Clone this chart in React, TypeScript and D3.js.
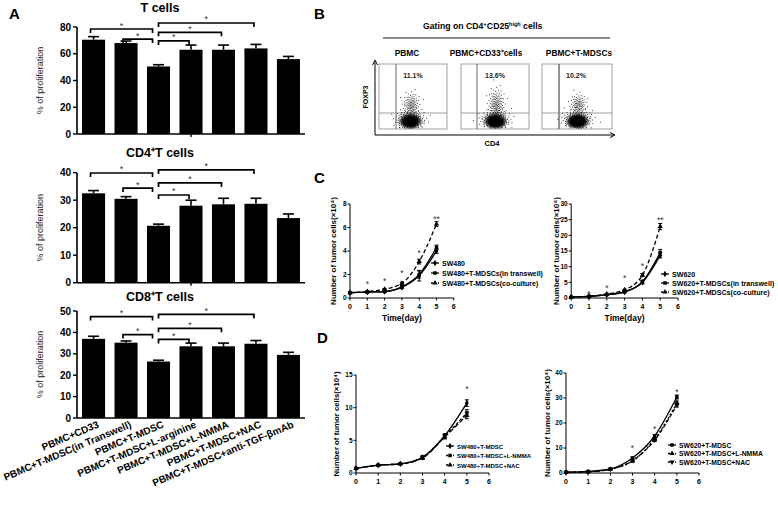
import React from 'react';
import * as d3 from 'd3';

const FONT = "'Liberation Sans', Arial, Helvetica, sans-serif";

// ---------------- Panel A data ----------------
const groups = [
  'PBMC+CD33',
  'PBMC+T-MDSC(in Transwell)',
  'PBMC+T-MDSC',
  'PBMC+T-MDSC+L-arginine',
  'PBMC+T-MDSC+L-NMMA',
  'PBMC+T-MDSC+NAC',
  'PBMC+T-MDSC+anti-TGF-βmAb',
];
const tCells = [70.5, 68, 50.5, 63, 63, 64, 56];
const tCellsErr = [2.3, 1.5, 1.3, 3.5, 3.5, 3, 2];
const cd4Cells = [32.5, 30.5, 20.7, 28, 28.5, 28.7, 23.5];
const cd4Err = [1, 0.8, 0.6, 2, 2.2, 2, 1.5];
const cd8Cells = [37, 35.2, 26.4, 33.5, 33.5, 34.7, 29.5];
const cd8Err = [1.2, 0.8, 0.6, 1.5, 1.5, 1.5, 1.2];
const tTicks = [0, 20, 40, 60, 80];
const cd4Ticks = [0, 10, 20, 30, 40];
const cd8Ticks = [0, 10, 20, 30, 40, 50];
// [from, to, bracket level (data units)]
const tBrackets = [[0, 2, 78.5], [1, 2, 71], [2, 5, 83], [2, 4, 76], [2, 3, 69.6]];
const cd4Brackets = [[0, 2, 39.9], [1, 2, 34.4], [2, 5, 41], [2, 4, 36.3], [2, 3, 31.9]];
const cd8Brackets = [[0, 2, 47.4], [1, 2, 39], [2, 5, 48.4], [2, 4, 41.9], [2, 3, 36.7]];

// ---------------- Panel B data ----------------
const flowLabels = ['PBMC', 'PBMC+CD33⁺cells', 'PBMC+T-MDSCs'];
const flowPct = ['11.1%', '13.6%', '10.2%'];

// ---------------- Panel C data ----------------
const days = [0, 1, 2, 3, 4, 5];
const dayTicks = [0, 1, 2, 3, 4, 5, 6];
const sw480 = [0.45, 0.5, 0.55, 0.9, 1.9, 4.0];
const sw480Err = [0.05, 0.05, 0.05, 0.1, 0.45, 0.2];
const sw480Transwell = [0.45, 0.5, 0.55, 0.95, 2.0, 4.3];
const sw480TranswellErr = [0.05, 0.05, 0.05, 0.1, 0.3, 0.2];
const sw480Co = [0.45, 0.55, 0.75, 1.25, 3.1, 6.3];
const sw480CoErr = [0.05, 0.05, 0.05, 0.1, 0.2, 0.2];
const cLeftTicks = [0, 2, 4, 6, 8];
const cLeftStars = [[1, '*', 1.4], [2, '*', 1.6], [3, '*', 2.3], [4, '*', 4.0], [5, '**', 6.9]];

const sw620 = [0.3, 0.5, 1.0, 1.9, 5.0, 13.6];
const sw620Err = [0.05, 0.1, 0.1, 0.2, 0.5, 0.8];
const sw620Transwell = [0.3, 0.5, 1.1, 2.0, 5.2, 14.5];
const sw620TranswellErr = [0.05, 0.1, 0.1, 0.2, 0.5, 1.0];
const sw620Co = [0.3, 0.6, 1.3, 2.6, 7.3, 22.8];
const sw620CoErr = [0.05, 0.1, 0.1, 0.2, 0.5, 1.0];
const cRightTicks = [0, 5, 10, 15, 20, 25, 30];
const cRightStars = [[1, '*', 1.9], [2, '*', 3.8], [3, '*', 7.0], [4, '*', 10.9], [5, '**', 25.5]];

// ---------------- Panel D data ----------------
const sw480T = [0.7, 1.2, 1.4, 2.4, 5.7, 10.7];
const sw480TErr = [0.05, 0.05, 0.1, 0.2, 0.3, 0.5];
const sw480Nmma = [0.7, 1.2, 1.4, 2.4, 5.6, 9.2];
const sw480NmmaErr = [0.05, 0.05, 0.1, 0.2, 0.3, 0.5];
const sw480Nac = [0.7, 1.2, 1.4, 2.3, 5.5, 8.8];
const sw480NacErr = [0.05, 0.05, 0.1, 0.2, 0.3, 0.5];
const dLeftTicks = [0, 5, 10, 15];
const dLeftStars = [[5, '*', 13.2]];

const sw620T = [0.3, 0.6, 1.6, 6.0, 14.8, 30.4];
const sw620TErr = [0.05, 0.1, 0.2, 0.4, 0.6, 0.8];
const sw620Nmma = [0.3, 0.5, 1.5, 4.8, 13.6, 28.0];
const sw620NmmaErr = [0.05, 0.1, 0.2, 0.4, 0.6, 0.8];
const sw620Nac = [0.3, 0.5, 1.5, 5.0, 13.2, 27.2];
const sw620NacErr = [0.05, 0.1, 0.2, 0.4, 0.6, 0.8];
const dRightTicks = [0, 10, 20, 30, 40];
const dRightStars = [[3, '*', 10.8], [4, '*', 18.4], [5, '*', 33.2]];

// ---------------- Bar panel ----------------
function BarPanel({ title, titleY, values, errs, brackets, ticks, top, bottom, showLabels }: any) {
  const x = d3.scaleBand<string>().domain(groups).range([77, 305]).paddingInner(0.29).paddingOuter(0.155);
  const y = d3.scaleLinear().domain([0, ticks[ticks.length - 1]]).range([bottom, top]);
  const cx = (i: number) => (x(groups[i]) as number) + x.bandwidth() / 2;
  const capW = 11;
  return (
    <g fontFamily={FONT}>
      <text x={160} y={titleY} textAnchor="middle" fontSize={12.5} fontWeight="bold">{title}</text>
      {groups.map((g, i) => (
        <g key={g}>
          <rect x={x(g)} y={y(values[i])} width={x.bandwidth()} height={bottom - y(values[i])} fill="#000" />
          <line x1={cx(i)} x2={cx(i)} y1={y(values[i])} y2={y(values[i] + errs[i])} stroke="#000" strokeWidth={1.6} />
          <line x1={cx(i) - capW / 2} x2={cx(i) + capW / 2} y1={y(values[i] + errs[i])} y2={y(values[i] + errs[i])} stroke="#000" strokeWidth={1.6} />
        </g>
      ))}
      <line x1={77} x2={305} y1={bottom} y2={bottom} stroke="#000" strokeWidth={1.6} />
      <line x1={191} x2={191} y1={bottom} y2={bottom + 3} stroke="#000" strokeWidth={1.4} />
      <line x1={77} x2={77} y1={bottom} y2={top} stroke="#000" strokeWidth={1.6} />
      {ticks.map((t: number) => (
        <g key={t}>
          <line x1={73} x2={77} y1={y(t)} y2={y(t)} stroke="#000" strokeWidth={1.4} />
          <text x={71} y={y(t) + 3.5} textAnchor="end" fontSize={10} fontWeight="bold">{t}</text>
        </g>
      ))}
      <text transform={`translate(${43},${(top + bottom) / 2}) rotate(-90)`} textAnchor="middle" fontSize={9} fill="#222">% of proliferation</text>
      {brackets.map((b: number[], k: number) => {
        const [a, c, lvl] = b;
        const x1 = c === 2 ? cx(a) - 3 : cx(2);
        const x2 = c === 2 ? cx(2) - 6 : cx(c) - 2;
        const yl = y(lvl);
        return (
          <g key={k}>
            <path d={`M${x1},${yl + 4}V${yl}H${x2}V${yl + 4}`} fill="none" stroke="#000" strokeWidth={1.7} />
            <text x={(x1 + x2) / 2} y={yl - 0.5} textAnchor="middle" fontSize={9} fill="#333">*</text>
          </g>
        );
      })}
      {showLabels && groups.map((g, i) => (
        <text key={g} transform={`translate(${cx(i) + 6},${bottom + 9}) rotate(-23)`} textAnchor="end" fontSize={10} fontWeight="bold">{g}</text>
      ))}
    </g>
  );
}

// ---------------- Line panel ----------------
const symbolPath = (type: string, size: number) => {
  const map: any = {
    diamond: d3.symbolDiamond,
    square: d3.symbolSquare,
    triangle: d3.symbolTriangle,
    circle: d3.symbolCircle,
    invtri: d3.symbolTriangle,
  };
  return d3.symbol().type(map[type]).size(size)() as string;
};

function Marker({ type, x, y, size }: any) {
  const rot = type === 'invtri' ? ' rotate(180)' : '';
  return <path d={symbolPath(type, size)} transform={`translate(${x},${y})${rot}`} fill="#000" />;
}

function LinePanel({ xr, yr, yTicks, series, stars, legend, yLabel, yLabelX, xTitle, tickFs, tickOff, legFs, legRow, yLabelFs }: any) {
  const x = d3.scaleLinear().domain([0, 6]).range(xr);
  const y = d3.scaleLinear().domain([0, yTicks[yTicks.length - 1]]).range(yr);
  const line = d3.line<number>().x((_, i) => x(days[i])).y((d) => y(d)).curve(d3.curveMonotoneX);
  return (
    <g fontFamily={FONT}>
      <line x1={xr[0]} x2={xr[1]} y1={yr[0]} y2={yr[0]} stroke="#000" strokeWidth={1} />
      <line x1={xr[0]} x2={xr[0]} y1={yr[0]} y2={yr[1]} stroke="#000" strokeWidth={1} />
      {dayTicks.map((t) => (
        <g key={t}>
          <line x1={x(t)} x2={x(t)} y1={yr[0]} y2={yr[0] + 2.5} stroke="#000" />
          <text x={x(t)} y={yr[0] + tickOff} textAnchor="middle" fontSize={tickFs} fontWeight="bold">{t}</text>
        </g>
      ))}
      {yTicks.map((t: number) => (
        <g key={t}>
          <line x1={xr[0] - 2.5} x2={xr[0]} y1={y(t)} y2={y(t)} stroke="#000" />
          <text x={xr[0] - 3.5} y={y(t) + 2.3} textAnchor="end" fontSize={tickFs - 0.5} fontWeight="bold">{t}</text>
        </g>
      ))}
      <text transform={`translate(${yLabelX},${(yr[0] + yr[1]) / 2}) rotate(-90)`} textAnchor="middle" fontSize={yLabelFs} fontWeight="bold">{yLabel}</text>
      {xTitle && <text x={(xr[0] + xr[1]) / 2} y={yr[0] + 23} textAnchor="middle" fontSize={8.5} fontWeight="bold">{xTitle}</text>}
      {series.map((s: any, k: number) => (
        <g key={k}>
          <path d={line(s.values) as string} fill="none" stroke="#000" strokeWidth={1.3} strokeDasharray={s.dash} />
          {s.values.map((v: number, i: number) => (
            <g key={i}>
              <line x1={x(days[i])} x2={x(days[i])} y1={y(v - s.errs[i])} y2={y(v + s.errs[i])} stroke="#000" strokeWidth={1} />
              <line x1={x(days[i]) - 2} x2={x(days[i]) + 2} y1={y(v + s.errs[i])} y2={y(v + s.errs[i])} stroke="#000" strokeWidth={1} />
              <line x1={x(days[i]) - 2} x2={x(days[i]) + 2} y1={y(v - s.errs[i])} y2={y(v - s.errs[i])} stroke="#000" strokeWidth={1} />
              <Marker type={s.marker} x={x(days[i])} y={y(v)} size={12} />
            </g>
          ))}
        </g>
      ))}
      {stars.map((s: any, k: number) => (
        <text key={k} x={x(s[0])} y={y(s[2]) + 5} textAnchor="middle" fontSize={8.5} fill="#333">{s[1]}</text>
      ))}
      {series.map((s: any, k: number) => {
        const ly = legend[1] + k * legRow;
        return (
          <g key={'l' + k}>
            <line x1={legend[0]} x2={legend[0] + 8} y1={ly} y2={ly} stroke="#000" strokeWidth={1.3} strokeDasharray={s.dash ? '2,1.5' : undefined} />
            <Marker type={s.marker} x={legend[0] + 4} y={ly} size={12} />
            <text x={legend[0] + 11} y={ly + 2.6} fontSize={legFs} fontWeight="bold">{s.name}</text>
          </g>
        );
      })}
    </g>
  );
}

// ---------------- Flow panel ----------------
function cloud(cx: number, cy: number, sx: number, sy: number, n: number, phase: number) {
  const pts: number[][] = [];
  for (let i = 0; i < n; i++) {
    const u = (i + 0.5) / n;
    const r = Math.sqrt(-2 * Math.log(1 - u * 0.995));
    const a = i * 2.399963 + phase;
    pts.push([cx + sx * r * Math.cos(a), cy + sy * r * Math.sin(a)]);
  }
  return pts;
}

function FlowBox({ bx, by, w, h, gateX, label, labelX, pct, tail, off, k }: any) {
  const cx = bx + off;
  const cy = by + 57;
  const pts = [
    ...cloud(cx, cy, 4.3, 3.0, 900, k),
    ...cloud(cx, cy - 2, 7.5, 4.8, 170, k + 1),
    ...cloud(cx + 1, cy - 16, 4.2, 6.5 * tail, Math.round(110 * tail), k + 2),
  ].filter((p) => p[0] > bx + 1 && p[0] < bx + w - 1 && p[1] > by + 1 && p[1] < by + h - 1);
  return (
    <g>
      <rect x={bx} y={by} width={w} height={h} fill="#fff" stroke="#8a8a8a" strokeWidth={0.8} />
      <line x1={gateX} x2={gateX} y1={by} y2={by + h} stroke="#666" strokeWidth={k === 2 ? 1.4 : 1} />
      <line x1={bx} x2={bx + w} y1={by + h - 16} y2={by + h - 16} stroke="#888" strokeWidth={0.8} />
      {pts.map((p, i) => (
        <rect key={i} x={p[0]} y={p[1]} width={0.85} height={0.85} fill="#000" />
      ))}
      <text x={bx + 34} y={by + 14} textAnchor="middle" fontSize={7} fontWeight="bold" fontFamily={FONT} fill="#222">{pct}</text>
      <text x={labelX} y={56} textAnchor="middle" fontSize={8.4} fontWeight="bold" fontFamily={FONT}>{label}</text>
    </g>
  );
}

export default function App() {
  const boxes = [379, 461, 542];
  const gates = [396, 477, 559];
  const tails = [1, 1.3, 0.9];
  const offs = [31, 34, 35];
  const labelXs = [407, 486, 579];
  return (
    <svg width={778} height={505} style={{ position: 'absolute', left: 0, top: 0, background: '#fff' }}>
      <rect width={778} height={505} fill="#fff" />
      <g fontFamily={FONT} fontWeight="bold" fontSize={15}>
        <text x={9} y={19}>A</text>
        <text x={314} y={19}>B</text>
        <text x={314} y={183}>C</text>
        <text x={317} y={343}>D</text>
      </g>
      <BarPanel title="T  cells" titleY={12} values={tCells} errs={tCellsErr} brackets={tBrackets} ticks={tTicks} top={27} bottom={134} />
      <BarPanel title="CD4⁺T cells" titleY={157} values={cd4Cells} errs={cd4Err} brackets={cd4Brackets} ticks={cd4Ticks} top={172.7} bottom={282.7} />
      <BarPanel title="CD8⁺T cells" titleY={301} values={cd8Cells} errs={cd8Err} brackets={cd8Brackets} ticks={cd8Ticks} top={311} bottom={418} showLabels />

      {/* Panel B */}
      <g fontFamily={FONT}>
        <text x={423} y={29} fontSize={8.7} fontWeight="bold">
          Gating on CD4<tspan fontSize={6} dy={-3}>+</tspan><tspan dy={3}>CD25</tspan><tspan fontSize={5.5} dy={-3}>high</tspan><tspan dy={3}> cells</tspan>
        </text>
        <line x1={383} x2={610} y1={38} y2={38} stroke="#666" strokeWidth={1.5} />
        {boxes.map((bx, k) => (
          <FlowBox key={k} k={k} bx={bx} by={64} w={k === 2 ? 70 : 68} h={65} gateX={gates[k]} label={flowLabels[k]} labelX={labelXs[k]} pct={flowPct[k]} tail={tails[k]} off={offs[k]} />
        ))}
        <line x1={375} x2={375} y1={135} y2={62} stroke="#000" strokeWidth={1} />
        <path d="M372.5,65 L375,60 L377.5,65" fill="none" stroke="#000" strokeWidth={1} />
        <line x1={375} x2={614} y1={135} y2={135} stroke="#000" strokeWidth={1} />
        <path d="M610,132.5 L615,135 L610,137.5" fill="none" stroke="#000" strokeWidth={1} />
        <text x={492} y={146} textAnchor="middle" fontSize={7.5} fontWeight="bold">CD4</text>
        <text transform="translate(368,97) rotate(-90)" textAnchor="middle" fontSize={7} fontWeight="bold">FOXP3</text>
      </g>

      {/* Panel C */}
      <LinePanel
        xr={[350, 453.8]} yr={[298, 204]} yTicks={cLeftTicks} yLabel="Number of  tumor cells(×10⁴)" yLabelX={336} yLabelFs={8} xTitle="Time(day)"
        tickFs={7} tickOff={11} legFs={7} legRow={10} legend={[431, 263]} stars={cLeftStars}
        series={[
          { name: 'SW480', values: sw480, errs: sw480Err, marker: 'diamond' },
          { name: 'SW480+T-MDSCs(in transwell)', values: sw480Transwell, errs: sw480TranswellErr, marker: 'square' },
          { name: 'SW480+T-MDSCs(co-culture)', values: sw480Co, errs: sw480CoErr, marker: 'triangle', dash: '4,2.5' },
        ]}
      />
      <LinePanel
        xr={[571.2, 678]} yr={[298, 204]} yTicks={cRightTicks} yLabel="Number of  tumor cells(×10⁴)" yLabelX={559} yLabelFs={8}
        xTitle="Time(day)"
        tickFs={7} tickOff={11} legFs={7.1} legRow={9} legend={[661, 274]} stars={cRightStars}
        series={[
          { name: 'SW620', values: sw620, errs: sw620Err, marker: 'diamond' },
          { name: 'SW620+T-MDSCs(in transwell)', values: sw620Transwell, errs: sw620TranswellErr, marker: 'square' },
          { name: 'SW620+T-MDSCs(co-culture)', values: sw620Co, errs: sw620CoErr, marker: 'triangle', dash: '4,2.5' },
        ]}
      />

      {/* Panel D */}
      <LinePanel
        xr={[356, 489]} yr={[473, 375]} yTicks={dLeftTicks} yLabel="Number of  tumor cells(×10⁴)" yLabelX={339} yLabelFs={7.8}
        tickFs={7} tickOff={10.5} legFs={6} legRow={9.5} legend={[446, 446]} stars={dLeftStars}
        series={[
          { name: 'SW480+T-MDSC', values: sw480T, errs: sw480TErr, marker: 'diamond' },
          { name: 'SW480+T-MDSC+L-NMMA', values: sw480Nmma, errs: sw480NmmaErr, marker: 'square', dash: '3,2' },
          { name: 'SW480+T-MDSC+NAC', values: sw480Nac, errs: sw480NacErr, marker: 'triangle', dash: '5,2' },
        ]}
      />
      <LinePanel
        xr={[566, 699]} yr={[473, 373]} yTicks={dRightTicks} yLabel="Number of  tumor cells(×10⁴)" yLabelX={550} yLabelFs={8}
        tickFs={7} tickOff={10.5} legFs={6.8} legRow={8.5} legend={[668, 445]} stars={dRightStars}
        series={[
          { name: 'SW620+T-MDSC', values: sw620T, errs: sw620TErr, marker: 'square' },
          { name: 'SW620+T-MDSC+L-NMMA', values: sw620Nmma, errs: sw620NmmaErr, marker: 'triangle', dash: '2,2' },
          { name: 'SW620+T-MDSC+NAC', values: sw620Nac, errs: sw620NacErr, marker: 'invtri', dash: '4,2' },
        ]}
      />
    </svg>
  );
}
